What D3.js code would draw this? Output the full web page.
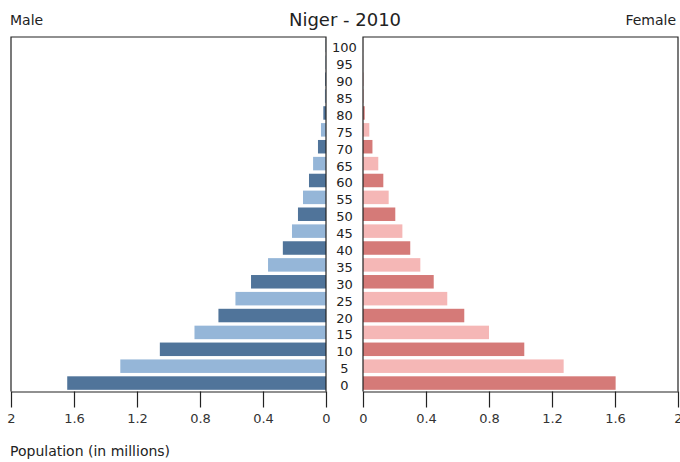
<!DOCTYPE html>
<html>
<head>
<meta charset="utf-8">
<script src="https://cdn.jsdelivr.net/npm/d3@7"></script>
<style>
  body { margin: 0; background: #fff; }
  svg { display: block; font-family: "DejaVu Sans", sans-serif; }
</style>
</head>
<body>
<svg id="chart" width="680" height="462"></svg>
<script>
// age groups, bottom to top
const ages = [0, 5, 10, 15, 20, 25, 30, 35, 40, 45, 50, 55, 60, 65, 70, 75, 80, 85, 90, 95, 100];
// population in millions
const male = [1.643, 1.306, 1.055, 0.835, 0.683, 0.575, 0.476, 0.368, 0.274, 0.216, 0.178,
              0.146, 0.108, 0.082, 0.051, 0.032, 0.017, 0.007, 0.005, 0.003, 0.002];
const female = [1.604, 1.274, 1.024, 0.800, 0.643, 0.535, 0.449, 0.364, 0.300, 0.250, 0.205,
                0.163, 0.129, 0.097, 0.060, 0.040, 0.011, 0.004, 0.002, 0.001, 0.0005];
const xTicks = [0, 0.4, 0.8, 1.2, 1.6, 2];

const svg = d3.select("#chart");

const plotTop = 37, plotBottom = 391.5;
const leftPanel = [11, 326], rightPanel = [363, 678];

const y = d3.scaleBand()
    .domain(ages)
    .range([plotBottom, plotTop])
    .paddingInner(0.2)
    .paddingOuter(0.1);

const xLeft = d3.scaleLinear().domain([2, 0]).range(leftPanel);
const xRight = d3.scaleLinear().domain([0, 2]).range(rightPanel);

const maleColors = ["#50749a", "#95b6d8"];
const femaleColors = ["#d57a78", "#f5b7b6"];

// bars
svg.append("g").selectAll("rect")
    .data(ages)
    .enter()
    .append("rect")
    .attr("x", (d, i) => xLeft(male[i]))
    .attr("y", d => y(d))
    .attr("width", (d, i) => xLeft(0) - xLeft(male[i]))
    .attr("height", y.bandwidth())
    .style("fill", (d, i) => maleColors[i % 2]);

svg.append("g").selectAll("rect")
    .data(ages)
    .enter()
    .append("rect")
    .attr("x", xRight(0))
    .attr("y", d => y(d))
    .attr("width", (d, i) => xRight(female[i]) - xRight(0))
    .attr("height", y.bandwidth())
    .style("fill", (d, i) => femaleColors[i % 2]);

// panel frames
const frame = svg.append("g").attr("stroke", "#222").attr("fill", "none").attr("stroke-width", 1.2);
frame.append("path")
    .attr("d", `M${leftPanel[0]},${plotBottom}V${plotTop}H${leftPanel[1]}V${plotBottom}`);
frame.append("path")
    .attr("d", `M${rightPanel[0]},${plotBottom}V${plotTop}H${rightPanel[1]}V${plotBottom}`);

// x axes
const drawAxis = (scale) => {
    const g = svg.append("g")
        .attr("transform", `translate(0, ${plotBottom})`)
        .call(d3.axisBottom(scale)
            .tickValues(xTicks)
            .tickFormat(d3.format("~g"))
            .tickSize(16)
            .tickSizeOuter(0));
    g.select(".domain").attr("stroke", "#222").attr("stroke-width", 1.2);
    g.selectAll(".tick line").attr("stroke", "#222").attr("stroke-width", 1.2);
    g.selectAll(".tick text")
        .attr("y", 22)
        .attr("dy", "0.71em")
        .style("font-family", "DejaVu Sans")
        .style("font-size", "13px")
        .style("fill", "#333");
};
drawAxis(xLeft);
drawAxis(xRight);

// age labels in the middle
const midX = (leftPanel[1] + rightPanel[0]) / 2;
svg.append("g").selectAll("text")
    .data(ages)
    .enter()
    .append("text")
    .attr("x", midX)
    .attr("y", d => y(d) + y.bandwidth() / 2 + 7)
    .attr("text-anchor", "middle")
    .style("font-size", "13px")
    .style("fill", "#222")
    .text(d => d);

// titles
svg.append("text")
    .attr("x", 345).attr("y", 26)
    .attr("text-anchor", "middle")
    .style("font-size", "18px")
    .style("fill", "#222")
    .text("Niger - 2010");

svg.append("text")
    .attr("x", 10).attr("y", 25)
    .style("font-size", "14px")
    .style("fill", "#222")
    .text("Male");

svg.append("text")
    .attr("x", 676).attr("y", 25)
    .attr("text-anchor", "end")
    .style("font-size", "14px")
    .style("fill", "#222")
    .text("Female");

svg.append("text")
    .attr("x", 10).attr("y", 456)
    .style("font-size", "14px")
    .style("fill", "#222")
    .text("Population (in millions)");
</script>
</body>
</html>
